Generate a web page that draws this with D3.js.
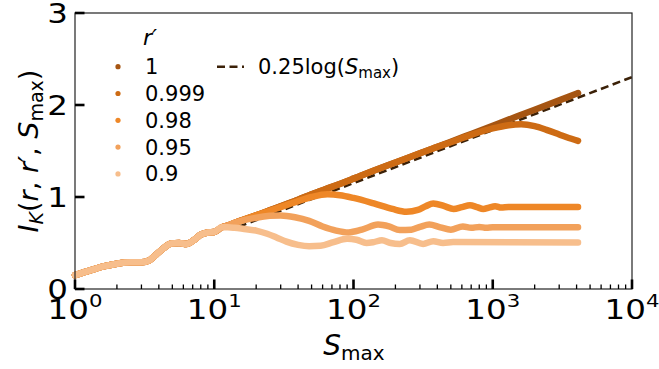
<!DOCTYPE html>
<html><head><meta charset="utf-8">
<script src="https://cdn.jsdelivr.net/npm/d3@7"></script>
<style>
body{margin:0;background:#fff}
svg{display:block}
text{font-family:"DejaVu Sans",sans-serif;fill:#000}
</style>
</head><body>
<svg id="c" width="659" height="369"></svg>
<script>
// ---------- data ----------
const legendLabels = ["1", "0.999", "0.98", "0.95", "0.9"];
const colors = ["#a65512", "#cd6b14", "#ee8727", "#f2a15b", "#f7be8c"];

// shared early part (all r' coincide)
const sEarly = [1, 1.3, 1.6, 2, 2.5, 3, 3.4, 3.8, 4.3, 4.9, 5.6, 6.3, 7.1, 8, 9, 10, 11.3];
const vEarly = [0.15, 0.205, 0.245, 0.275, 0.29, 0.29, 0.31, 0.37, 0.44, 0.495, 0.50, 0.49, 0.53, 0.59, 0.615, 0.62, 0.67];

// r' = 1
const sR1 = [12.5, 15, 20, 25, 30, 40, 50, 70, 100, 150, 200, 300, 500, 700, 1000, 1500, 2000, 3000, 4096];
const vR1 = [0.69, 0.735, 0.80, 0.855, 0.90, 0.97, 1.03, 1.11, 1.20, 1.305, 1.375, 1.475, 1.60, 1.685, 1.775, 1.877, 1.948, 2.05, 2.13];

// r' = 0.999
const sR999 = [12.5, 15, 20, 25, 30, 40, 50, 70, 100, 150, 200, 300, 400, 500, 700, 1000, 1300, 1600, 2000, 2430, 3000, 3400, 4096];
const vR999 = [0.69, 0.735, 0.80, 0.855, 0.90, 0.97, 1.03, 1.11, 1.20, 1.305, 1.375, 1.475, 1.545, 1.595, 1.675, 1.745, 1.78, 1.79, 1.77, 1.73, 1.68, 1.65, 1.61];

// r' = 0.98
const sR98 = [12.5, 15, 20, 25, 30, 40, 50, 65, 80, 100, 140, 190, 240, 290, 330, 374, 450, 523, 600, 686, 770, 855, 940, 1040, 1150, 1300, 4096];
const vR98 = [0.69, 0.735, 0.80, 0.85, 0.89, 0.955, 1.00, 1.03, 1.02, 0.99, 0.93, 0.87, 0.84, 0.86, 0.90, 0.93, 0.90, 0.87, 0.89, 0.91, 0.89, 0.87, 0.885, 0.90, 0.885, 0.89, 0.89];

// r' = 0.95
const sR95 = [12.5, 14, 16, 20, 25, 30, 38, 48, 60, 75, 92, 115, 150, 180, 215, 260, 300, 350, 420, 500, 610, 700, 800, 900, 1000, 4096];
const vR95 = [0.69, 0.72, 0.745, 0.775, 0.795, 0.80, 0.78, 0.74, 0.68, 0.635, 0.615, 0.645, 0.70, 0.68, 0.64, 0.645, 0.675, 0.70, 0.67, 0.645, 0.68, 0.665, 0.675, 0.665, 0.67, 0.67];

// r' = 0.9
const sR9 = [12.5, 14, 16, 20, 24, 28, 33, 40, 48, 58, 72, 90, 105, 124, 140, 160, 185, 215, 254, 316, 374, 440, 520, 4096];
const vR9 = [0.67, 0.665, 0.655, 0.635, 0.60, 0.56, 0.515, 0.48, 0.465, 0.47, 0.51, 0.545, 0.535, 0.50, 0.51, 0.53, 0.50, 0.49, 0.53, 0.49, 0.52, 0.50, 0.51, 0.505];

// dashed reference 0.25 log(S_max)
const sDash = [15, 10000];
const vDash = [0.677, 2.303];

const xMajor = [1, 10, 100, 1000, 10000];
const xMajorExp = ["0", "1", "2", "3", "4"];
const yMajor = [0, 1, 2, 3];

// ---------- chart ----------
const svg = d3.select("#c");
const L = 75, R = 632, T = 13, B = 289;
const x = d3.scaleLog().domain([1, 10000]).range([L, R]);
const y = d3.scaleLinear().domain([0, 3]).range([B, T]);

const seriesS = [sR1, sR999, sR98, sR95, sR9];
const seriesV = [vR1, vR999, vR98, vR95, vR9];

const line = d3.line().x(d => x(d[0])).y(d => y(d[1])).curve(d3.curveMonotoneX);

const plot = svg.append("g");
plot.append("clipPath").attr("id", "clip").append("rect")
  .attr("x", L).attr("y", T).attr("width", R - L).attr("height", B - T);

// dashed line
plot.append("path")
  .datum(sDash.map((s, i) => [s, vDash[i]]))
  .attr("d", d3.line().x(d => x(d[0])).y(d => y(d[1])))
  .attr("fill", "none").attr("stroke", "#3b2108").attr("stroke-width", 2.6)
  .attr("stroke-dasharray", "8,4.5").attr("clip-path", "url(#clip)");

seriesS.forEach((sArr, k) => {
  const pts = sEarly.map((s, i) => [s, vEarly[i]]).concat(sArr.map((s, i) => [s, seriesV[k][i]]));
  plot.append("path").datum(pts).attr("d", line)
    .attr("fill", "none").attr("stroke", colors[k]).attr("stroke-width", 6.5)
    .attr("stroke-linecap", "round").attr("stroke-linejoin", "round");
});

// frame
svg.append("rect").attr("x", L).attr("y", T).attr("width", R - L).attr("height", B - T)
  .attr("fill", "none").attr("stroke", "#222").attr("stroke-width", 1.2);

// x ticks
const xMinor = [];
for (let d = 1; d < 10000; d *= 10) for (let m = 2; m <= 9; m++) xMinor.push(d * m);
const axX = svg.append("g");
axX.selectAll(".mn").data(xMinor).join("line")
  .attr("x1", d => x(d)).attr("x2", d => x(d)).attr("y1", B).attr("y2", B - 4.5)
  .attr("stroke", "#000").attr("stroke-width", 1.3);
axX.selectAll(".mj").data(xMajor).join("line")
  .attr("x1", d => x(d)).attr("x2", d => x(d)).attr("y1", B).attr("y2", B - 9.5)
  .attr("stroke", "#000").attr("stroke-width", 2.6);
xMajor.forEach((v, i) => {
  const g = axX.append("g").attr("transform", `translate(${x(v)},319) scale(1.25,1)`);
  const t = g.append("text").attr("text-anchor", "middle").attr("font-size", 26);
  t.append("tspan").text("10");
  t.append("tspan").attr("font-size", 17).attr("dy", -12).text(xMajorExp[i]);
});

// y ticks
const axY = svg.append("g");
axY.selectAll("line").data(yMajor).join("line")
  .attr("x1", L).attr("x2", L + 9.5).attr("y1", d => y(d)).attr("y2", d => y(d))
  .attr("stroke", "#000").attr("stroke-width", 2.6);
yMajor.forEach(v => {
  axY.append("g").attr("transform", `translate(68,${y(v) + 9.5}) scale(1.25,1)`)
    .append("text").attr("text-anchor", "end").attr("font-size", 26).text(String(v));
});

// axis titles
const xl = svg.append("text").attr("x", 354).attr("y", 355).attr("text-anchor", "middle").attr("font-size", 28);
xl.append("tspan").attr("font-style", "italic").text("S");
xl.append("tspan").attr("font-size", 20).attr("dy", 5).text("max");

const yl = svg.append("text").attr("transform", "translate(38,151) rotate(-90)")
  .attr("text-anchor", "middle").attr("font-size", 27);
yl.append("tspan").attr("font-style", "italic").text("I");
yl.append("tspan").attr("font-style", "italic").attr("font-size", 19).attr("dy", 5).text("K");
yl.append("tspan").attr("dy", -5).text("(");
yl.append("tspan").attr("font-style", "italic").text("r");
yl.append("tspan").text(", ");
yl.append("tspan").attr("font-style", "italic").text("r′");
yl.append("tspan").text(", ");
yl.append("tspan").attr("font-style", "italic").text("S");
yl.append("tspan").attr("font-size", 19).attr("dy", 5).text("max");
yl.append("tspan").attr("dy", -5).text(")");

// legend
const lg = svg.append("g");
lg.append("text").attr("x", 143).attr("y", 45).attr("font-size", 22).attr("font-style", "italic").text("r′");
legendLabels.forEach((lab, i) => {
  const cy = 66.7 + i * 26.8;
  lg.append("circle").attr("cx", 118).attr("cy", cy).attr("r", 2.6).attr("fill", colors[i]);
  lg.append("text").attr("x", 145).attr("y", cy + 7.5).attr("font-size", 21).text(lab);
});
lg.append("line").attr("x1", 217).attr("x2", 244).attr("y1", 66.7).attr("y2", 66.7)
  .attr("stroke", "#3b2108").attr("stroke-width", 2.6).attr("stroke-dasharray", "8,4.5");
const dl = lg.append("text").attr("x", 258).attr("y", 74.2).attr("font-size", 21);
dl.append("tspan").text("0.25log(");
dl.append("tspan").attr("font-style", "italic").text("S");
dl.append("tspan").attr("font-size", 15).attr("dy", 4).text("max");
dl.append("tspan").attr("dy", -4).text(")");
</script>
</body></html>
